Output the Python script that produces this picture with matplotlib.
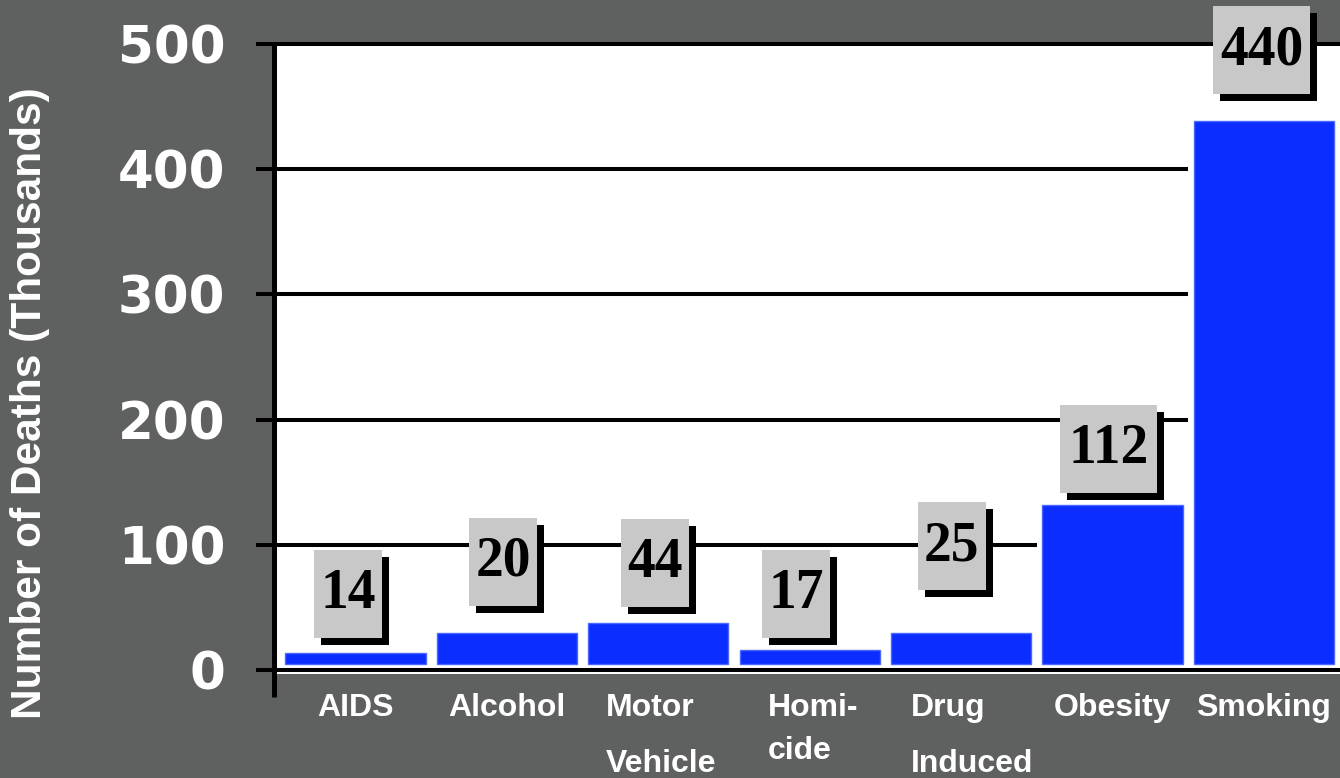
import matplotlib
matplotlib.use("Agg")
import matplotlib.pyplot as plt
from matplotlib.patches import Rectangle
import matplotlib.transforms as mtransforms

# ---- data ----
categories = ["AIDS", "Alcohol", "Motor\nVehicle", "Homi-\ncide", "Drug\nInduced", "Obesity", "Smoking"]
bar_tops = [13.6, 29.3, 37.3, 16.0, 29.3, 131.8, 438.5]      # bar heights as drawn
label_values = ["14", "20", "44", "17", "25", "112", "440"]   # numbers printed in boxes
y_ticks = [0, 100, 200, 300, 400, 500]

# ---- layout (label box centres, data coords) ----
box_cx = [-0.05, 0.974, 1.975, 2.91, 3.937, 4.974, 5.987]
box_cy = [60.7, 86.3, 85.5, 60.7, 99.0, 176.5, 495.2]
cat_dx = [0, 0, 0.02, 0.02, 0.07, 0, 0]
cat_ls = [2.0, 2.0, 2.15, 1.55, 2.15, 2.0, 2.0]

BG = "#5f6060"
BLUE = "#0b2dff"
BOXC = "#c8c8c8"

W, H = 1340, 778
fig = plt.figure(figsize=(W / 100, H / 100), dpi=100, facecolor=BG)
ax = fig.add_axes([274 / W, 1 - 674 / H, (W - 274) / W, (674 - 44) / H])
ax.set_facecolor("white")

px_x = 151.4     # pixels per category
px_y = 1.252     # pixels per data unit
ax.set_xlim((274 - 355.5) / px_x, (1340 - 355.5) / px_x)
ax.set_ylim(-3.2, 500)

base = 4.8
x = list(range(len(categories)))

# grid lines
for t in y_ticks[:-1]:
    ax.axhline(t, color="black", lw=2.9, zorder=1)

heights = [b - base for b in bar_tops]
# white backing columns hide gridlines in the gaps
ax.bar(x, heights, bottom=base, width=1.0, color="white", zorder=2, linewidth=0)
ax.bar(x, heights, bottom=base, width=0.925, color=BLUE, edgecolor="#4a68ff",
       linewidth=1, zorder=3)

# label boxes
for cx, cy, lab in zip(box_cx, box_cy, label_values):
    wpx = 68 if len(lab) == 2 else 97
    w = wpx / px_x
    h = 88 / px_y
    dx = 7 / px_x
    dy = 7 / px_y
    ax.add_patch(Rectangle((cx - w / 2 + dx, cy - h / 2 - dy), w, h, facecolor="black",
                           edgecolor="none", zorder=4, clip_on=False))
    ax.add_patch(Rectangle((cx - w / 2, cy - h / 2), w, h, facecolor=BOXC,
                           edgecolor="none", zorder=5, clip_on=False))
    ax.text(cx, cy, lab, ha="center", va="center", fontsize=40, fontweight="bold",
            family="Liberation Serif", color="black", zorder=6, clip_on=False)

# spines
for s in ["right", "bottom", "left"]:
    ax.spines[s].set_visible(False)
ax.spines["top"].set_linewidth(2.9)
ax.spines["top"].set_color("black")
ax.plot([0, 0], [1, -23 / 630], transform=ax.transAxes, color="black", lw=3.6,
        clip_on=False, zorder=7, solid_capstyle="butt")

ax.set_yticks(y_ticks)
ax.set_yticklabels([str(t) for t in y_ticks])
ax.tick_params(axis="y", length=13, width=2.9, color="black", direction="out",
               labelsize=37, labelcolor="white", pad=22)
for lbl in ax.get_yticklabels():
    lbl.set_fontweight("bold")
    lbl.set_family("DejaVu Sans")
ax.set_xticks([])

trans = mtransforms.blended_transform_factory(ax.transData, ax.transAxes)
for xi, cat, ddx, ls in zip(x, categories, cat_dx, cat_ls):
    ax.text(xi + ddx, -0.030, cat, transform=trans, ha="center", va="top",
            multialignment="left", fontsize=23, fontweight="bold", family="Liberation Sans",
            color="white", linespacing=ls, clip_on=False)

fig.text(30 / W, 1 - 403 / H, "Number of Deaths (Thousands)", rotation=90, ha="center",
         va="center", fontsize=30.5, fontweight="bold", family="Liberation Sans", color="white")

fig.savefig("out.png", dpi=100, facecolor=BG)
